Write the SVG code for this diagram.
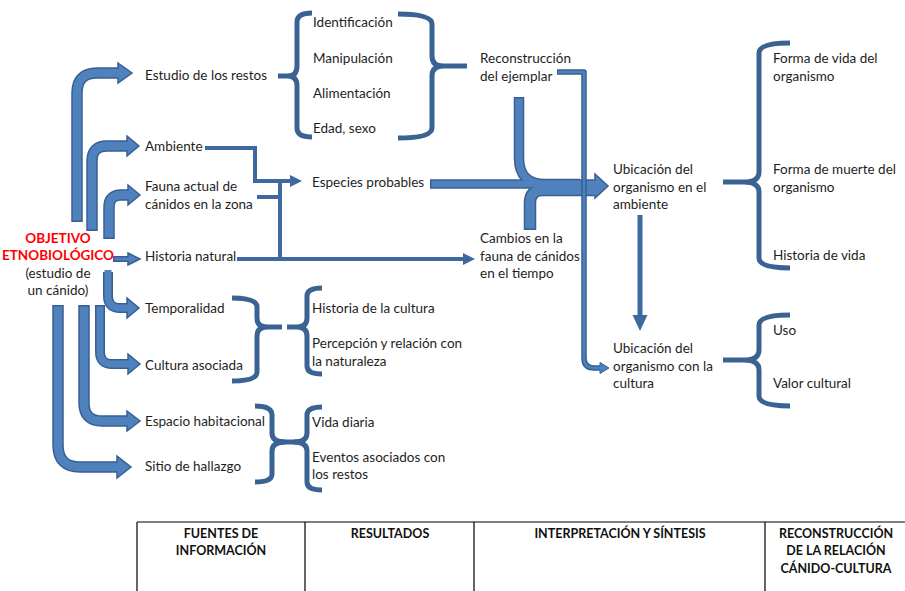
<svg xmlns="http://www.w3.org/2000/svg" width="905" height="591" viewBox="0 0 905 591">
<style>
.t{font-family:Lato,"Liberation Sans",sans-serif;font-size:13.5px;fill:#1e1e1e}
.c{text-anchor:middle}
.red{fill:#ff0000;font-weight:bold}
.th{font-family:Lato,"Liberation Sans",sans-serif;font-weight:bold;font-size:12.5px;text-anchor:middle;fill:#111}
.bo{fill:none;stroke:#385f94;stroke-width:11.5;stroke-linejoin:round}
.bi{fill:none;stroke:#4f81bd;stroke-width:8.5;stroke-linejoin:round}
.hd{fill:#4f81bd;stroke:#385f94;stroke-width:1.5;stroke-linejoin:miter}
.ln{fill:none;stroke:#3d68a0;stroke-width:4;stroke-linejoin:miter}
.lh{fill:#3d68a0}
.br{fill:none;stroke:#3a6394;stroke-width:5;stroke-linejoin:round}
.tb{stroke:#000;stroke-width:1.2;fill:none}
</style>
<rect width="905" height="591" fill="#fff"/>

<g id="connectors">
  <!-- left block arrows: outlines -->
  <path class="bo" d="M77,222 V93 Q77,73 97,73 H119"/>
  <path class="bo" d="M92,231 V161 Q92,146 107,146 H128"/>
  <path class="bo" d="M109,239 V207 Q109,195 121,195 H129"/>
  <path class="bo" style="stroke-width:6" d="M113,259 H129"/>
  <path class="bo" style="stroke-width:10" d="M108,272 V296 Q108,308 120,308 H128"/>
  <path class="bo" style="stroke-width:10" d="M100,305 V352 Q100,364 112,364 H129"/>
  <path class="bo" d="M84,305 V403 Q84,421 102,421 H128"/>
  <path class="bo" d="M58,305 V445 Q58,467 80,467 H118"/>
  <!-- heads -->
  <polygon class="hd" points="118,63 132,73 118,83"/>
  <polygon class="hd" points="127,136 139,146 127,156"/>
  <polygon class="hd" points="128,185 140,195 128,205"/>
  <polygon class="hd" points="128,253 140,259 128,265"/>
  <polygon class="hd" points="127,298 139,308 127,318"/>
  <polygon class="hd" points="128,354 140,364 128,374"/>
  <polygon class="hd" points="127,411 140,421 127,431"/>
  <polygon class="hd" points="117,456 131,467 117,478"/>
  <!-- inner fills -->
  <path class="bi" d="M77,220.5 V93 Q77,73 97,73 H120"/>
  <path class="bi" d="M92,229.5 V161 Q92,146 107,146 H129"/>
  <path class="bi" d="M109,237.5 V207 Q109,195 121,195 H130"/>
  <path class="bi" style="stroke-width:3" d="M114.5,259 H130"/>
  <path class="bi" style="stroke-width:7" d="M108,270 V296 Q108,308 120,308 H129"/>
  <path class="bi" style="stroke-width:7" d="M100,306.5 V352 Q100,364 112,364 H130"/>
  <path class="bi" d="M84,306.5 V403 Q84,421 102,421 H129"/>
  <path class="bi" d="M58,306.5 V445 Q58,467 80,467 H119"/>

  <!-- merged central arrow -->
  <path class="bo" style="stroke-width:9.5" d="M430,184 H596"/>
  <path class="bo" style="stroke-width:10.5" d="M519,97 V158 Q519,184 545,184 H580"/>
  <path class="bo" style="stroke-width:12.5" d="M530,230 V203 Q530,190 543,190 H596"/>
  <polygon class="hd" points="595,174 608,186 595,198"/>
  <path class="bi" style="stroke-width:6.5" d="M431.5,184 H597"/>
  <path class="bi" style="stroke-width:7.5" d="M519,98.5 V158 Q519,184 545,184 H580"/>
  <path class="bi" style="stroke-width:9.5" d="M530,228.5 V203 Q530,190 543,190 H597"/>

  <!-- thin connectors -->
  <path class="ln" d="M205,148 H255 V181 H291"/>
  <polygon class="lh" points="290,175 302,181 290,187"/>
  <path class="ln" d="M280,181 V259"/>
  <path class="ln" d="M257,197 H280"/>
  <path class="ln" d="M237,259 H464"/>
  <polygon class="lh" points="463,253 475,259 463,265"/>

  <!-- ejemplar to cultura -->
  <path fill="none" stroke="#365f93" stroke-width="5.5" stroke-linejoin="round" d="M557,72 H584 V358 Q584,368 594,368 H601"/>
  <polygon class="hd" style="stroke-width:1" points="600,362.5 609,368 600,373.5"/>
  <path fill="none" stroke="#4f81bd" stroke-width="2.5" stroke-linejoin="round" d="M558,72 H584 V358 Q584,368 594,368 H601"/>

  <!-- ambiente down to cultura -->
  <path fill="none" stroke="#3d68a0" stroke-width="5" d="M640,215 V316"/>
  <polygon class="lh" points="632.5,315 647.5,315 640,331"/>
</g>

<g id="node-objetivo">
  <text class="t c red" x="58" y="243">OBJETIVO</text>
  <text class="t c red" x="58" y="260">ETNOBIOLÓGICO</text>
  <text class="t c" x="58" y="278">(estudio de</text>
  <text class="t c" x="58" y="295">un cánido)</text>
</g>

<g id="node-estudio"><text class="t" x="145" y="80">Estudio de los restos</text></g>
<g id="node-ambiente"><text class="t" x="145" y="151">Ambiente</text></g>
<g id="node-fauna"><text class="t" x="145" y="191">Fauna actual de</text><text class="t" x="145" y="209">cánidos en la zona</text></g>
<g id="node-historia"><text class="t" x="145" y="261">Historia natural</text></g>
<g id="node-temporalidad"><text class="t" x="145" y="313">Temporalidad</text></g>
<g id="node-cultura"><text class="t" x="145" y="370">Cultura asociada</text></g>
<g id="node-espacio"><text class="t" x="145" y="426">Espacio habitacional</text></g>
<g id="node-sitio"><text class="t" x="145" y="471">Sitio de hallazgo</text></g>

<g id="node-restos-items">
  <path class="br" d="M312,13 Q297,13 297,22 V66 Q297,76 288,76 H278 M288,76 Q297,76 297,86 V128 Q297,137 312,137"/>
  <text class="t" x="313" y="27">Identificación</text>
  <text class="t" x="313" y="63">Manipulación</text>
  <text class="t" x="313" y="98">Alimentación</text>
  <text class="t" x="313" y="133">Edad, sexo</text>
  <path class="br" d="M398,14 Q432,14 432,24 V56 Q432,66 443,66 H467 M443,66 Q432,66 432,76 V128 Q432,138 398,138"/>
</g>

<g id="node-reconstruccion"><text class="t" x="480" y="63">Reconstrucción</text><text class="t" x="480" y="81">del ejemplar</text></g>
<g id="node-especies"><text class="t" x="312" y="187">Especies probables</text></g>
<g id="node-cambios"><text class="t" x="480" y="243">Cambios en la</text><text class="t" x="480" y="261">fauna de cánidos</text><text class="t" x="480" y="278">en el tiempo</text></g>

<g id="node-cultura-items">
  <path class="br" d="M232,298 Q257,298 257,307 V318 Q257,327 267,327 H282 M267,327 Q257,327 257,336 V372 Q257,381 232,381"/>
  <path class="br" d="M322,288 Q307,288 307,296 V318 Q307,327 297,327 H287 M297,327 Q307,327 307,336 V366 Q307,374 322,374"/>
  <text class="t" x="312" y="313">Historia de la cultura</text>
  <text class="t" x="312" y="348">Percepción y relación con</text>
  <text class="t" x="312" y="366">la naturaleza</text>
</g>

<g id="node-espacio-items">
  <path class="br" d="M255,406 Q272,406 272,415 V433 Q272,442 285,442 M285,442 Q272,442 272,451 V474 Q272,482 255,482"/>
  <path class="br" d="M322,407 Q307,407 307,415 V433 Q307,442 294,442 M294,442 Q307,442 307,451 V482 Q307,490 322,490"/>
  <path class="br" d="M280,442 H299"/>
  <text class="t" x="312" y="427">Vida diaria</text>
  <text class="t" x="312" y="462">Eventos asociados con</text>
  <text class="t" x="312" y="479">los restos</text>
</g>

<g id="node-ubic-ambiente">
  <text class="t" x="613" y="174">Ubicación del</text>
  <text class="t" x="613" y="192">organismo en el</text>
  <text class="t" x="613" y="209">ambiente</text>
  <path class="br" d="M790,43 Q759,43 759,53 V172 Q759,182 744,182 H723 M744,182 Q759,182 759,192 V258 Q759,268 790,268"/>
  <text class="t" x="773" y="63">Forma de vida del</text>
  <text class="t" x="773" y="81">organismo</text>
  <text class="t" x="773" y="174">Forma de muerte del</text>
  <text class="t" x="773" y="192">organismo</text>
  <text class="t" x="773" y="260">Historia de vida</text>
</g>

<g id="node-ubic-cultura">
  <text class="t" x="613" y="353">Ubicación del</text>
  <text class="t" x="613" y="371">organismo con la</text>
  <text class="t" x="613" y="388">cultura</text>
  <path class="br" d="M790,315 Q759,315 759,325 V350 Q759,360 744,360 H723 M744,360 Q759,360 759,370 V396 Q759,406 790,406"/>
  <text class="t" x="773" y="335">Uso</text>
  <text class="t" x="773" y="388">Valor cultural</text>
</g>

<g id="table">
  <path class="tb" d="M137,522 H905 M137,522 V591 M305,522 V591 M474,522 V591 M765,522 V591"/>
  <text class="th" x="221" y="538">FUENTES DE</text>
  <text class="th" x="221" y="555">INFORMACIÓN</text>
  <text class="th" x="390" y="538">RESULTADOS</text>
  <text class="th" x="620" y="538">INTERPRETACIÓN Y SÍNTESIS</text>
  <text class="th" x="836" y="538">RECONSTRUCCIÓN</text>
  <text class="th" x="836" y="555">DE LA RELACIÓN</text>
  <text class="th" x="836" y="573">CÁNIDO-CULTURA</text>
</g>
</svg>
